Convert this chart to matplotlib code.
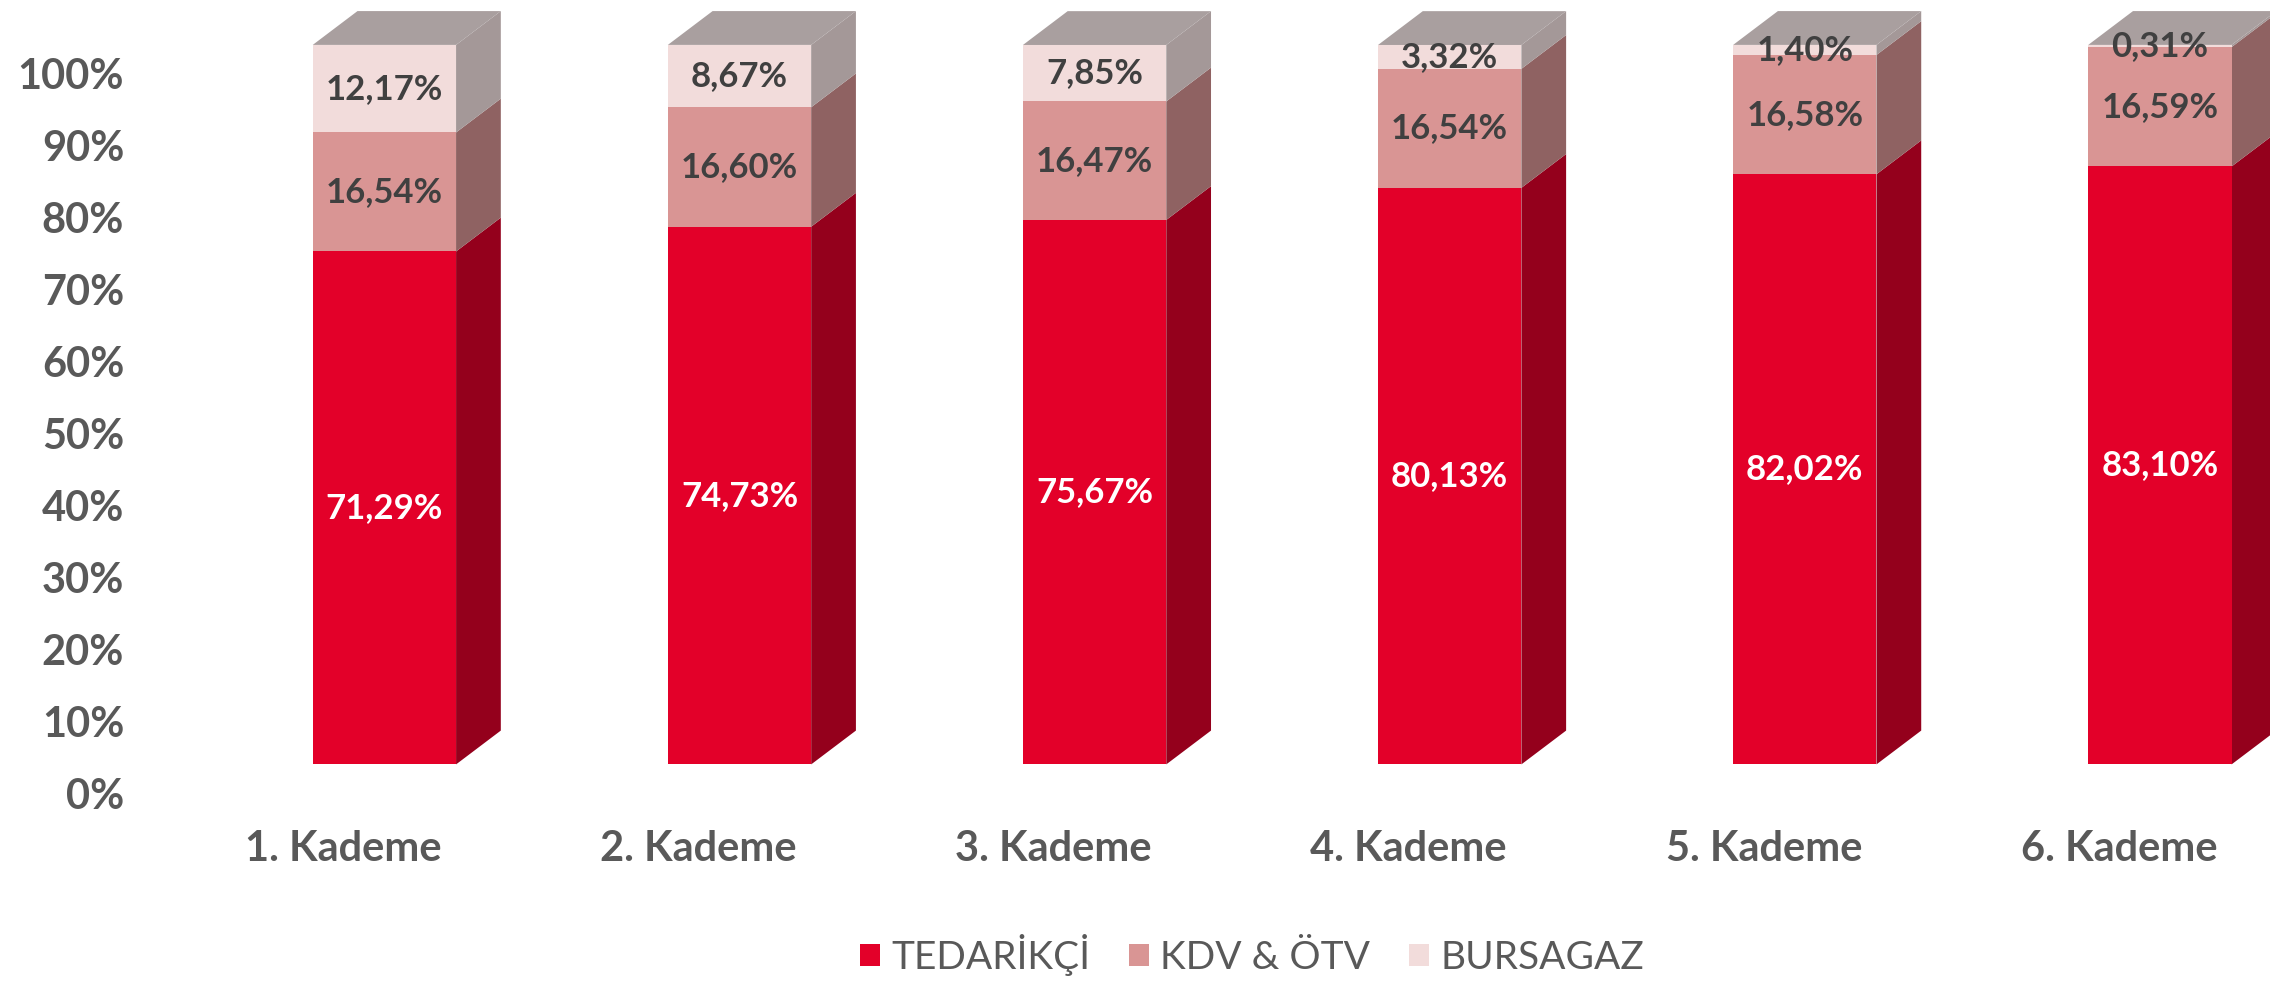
import numpy as np
import matplotlib.pyplot as plt
from matplotlib.patches import Polygon
from matplotlib.transforms import ScaledTranslation

plt.rcParams['font.family'] = ['Lato', 'DejaVu Sans']

categories = ['1. Kademe', '2. Kademe', '3. Kademe', '4. Kademe', '5. Kademe', '6. Kademe']
series_names = ['TEDARİKÇİ', 'KDV & ÖTV', 'BURSAGAZ']
tedarikci = [71.29, 74.73, 75.67, 80.13, 82.02, 83.10]
kdv_otv = [16.54, 16.60, 16.47, 16.54, 16.58, 16.59]
bursagaz = [12.17, 8.67, 7.85, 3.32, 1.40, 0.31]

front_cols = ['#E30029', '#D99594', '#F2DCDB']
side_cols = ['#94001C', '#8F6262', '#A49898']
top_col = '#A99F9F'
label_cols = ['white', '#404040', '#404040']

W, H, DPI = 2270, 982, 100
fig = plt.figure(figsize=(W / DPI, H / DPI), dpi=DPI)
ax_l, ax_b = 127, 217.6
ax = fig.add_axes([ax_l / W, ax_b / H, 1 - ax_l / W, 1 - ax_b / H])
ax.set_xlim(-0.7249, 5.310)
ax.set_ylim(0, 106.24)

x = np.arange(len(categories))
w = 0.4036
dx, dy = 0.126, 4.7   # depth of the 3D look, in data units

series = [tedarikci, kdv_otv, bursagaz]
bottom = np.zeros(len(categories))
for k, vals in enumerate(series):
    vals = np.array(vals)
    ax.bar(x, vals, bottom=bottom, width=w, color=front_cols[k], linewidth=0,
           label=series_names[k], zorder=2)
    for i in range(len(x)):
        b, t = bottom[i], bottom[i] + vals[i]
        r = x[i] + w / 2
        ax.add_patch(Polygon([(r, b), (r + dx, b + dy), (r + dx, t + dy), (r, t)],
                             closed=True, facecolor=side_cols[k], linewidth=0,
                             zorder=1, clip_on=False))
        ax.text(x[i], (b + t) / 2, f'{vals[i]:.2f}%'.replace('.', ','),
                ha='center', va='center', fontsize=25, fontweight='bold',
                color=label_cols[k], zorder=5)
    bottom = bottom + vals

# top faces
for i in range(len(x)):
    t = bottom[i]
    lft, r = x[i] - w / 2, x[i] + w / 2
    ax.add_patch(Polygon([(lft, t), (lft + dx, t + dy), (r + dx, t + dy), (r, t)],
                         closed=True, facecolor=top_col, linewidth=0, zorder=1,
                         clip_on=False))

for s in ax.spines.values():
    s.set_visible(False)
ax.set_yticks(range(0, 101, 10))
ax.set_yticklabels([f'{v}%' for v in range(0, 101, 10)])
ax.set_xticks(x)
ax.set_xticklabels(categories)
ax.tick_params(axis='both', length=0, colors='#595959')
ax.tick_params(axis='y', labelsize=30, pad=2)
ax.tick_params(axis='x', labelsize=30, pad=47)
for lab in ax.get_yticklabels():
    lab.set_fontweight('bold')
    lab.set_transform(lab.get_transform() + ScaledTranslation(0, -0.29, fig.dpi_scale_trans))
for lab in ax.get_xticklabels():
    lab.set_fontweight('bold')
    lab.set_transform(lab.get_transform() + ScaledTranslation(-0.41, 0, fig.dpi_scale_trans))

fig.legend(loc='center', bbox_to_anchor=(1252 / W, 27 / H), ncol=3, frameon=False,
           fontsize=28, handlelength=0.5, handleheight=0.5, handletextpad=0.3,
           columnspacing=1.0, labelcolor='#595959')

fig.savefig('out.png', dpi=DPI, facecolor='white')
